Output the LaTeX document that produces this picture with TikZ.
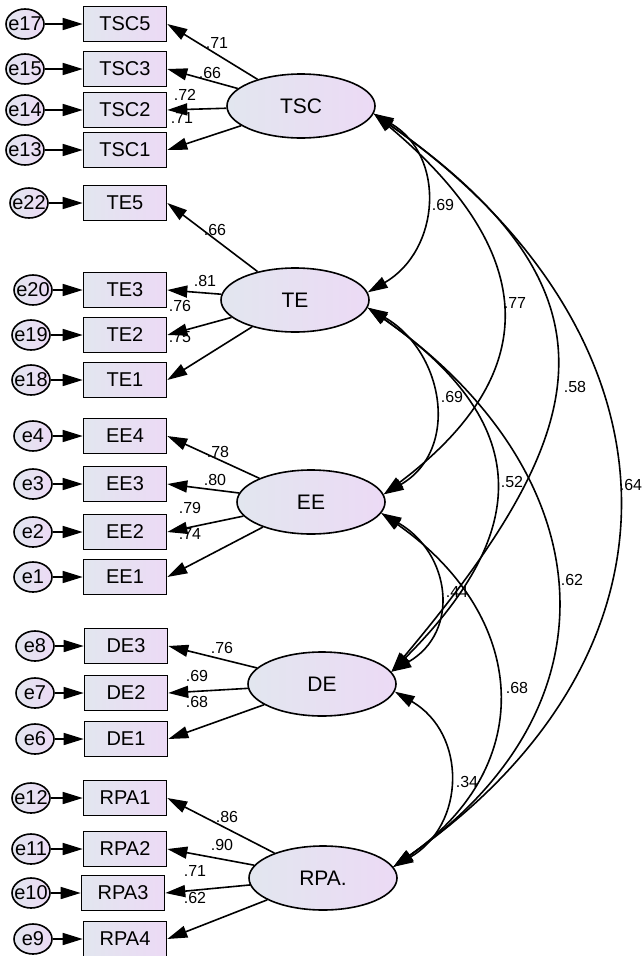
\documentclass[tikz,border=0pt]{standalone}
\usepackage{fontspec}
\setmainfont{Liberation Sans}
\usetikzlibrary{shapes.geometric,arrows.meta}

\definecolor{shadeL}{RGB}{226,230,239}
\definecolor{shadeR}{RGB}{236,218,245}
\newcommand{\ename}[1]{\makebox[0pt]{#1}}

\begin{document}
\begin{tikzpicture}[x=1pt,y=1pt,
    >={Triangle[length=20pt,width=12pt]},
    obs/.style={rectangle,draw,line width=1.6pt,minimum width=83pt,minimum height=35pt,
      inner sep=0pt,left color=shadeL,right color=shadeR,font=\fontsize{20}{24}\selectfont},
    lat/.style={ellipse,draw,line width=1.6pt,minimum width=148pt,minimum height=64pt,
      inner sep=0pt,left color=shadeL,right color=shadeR,font=\fontsize{21}{25}\selectfont},
    res/.style={ellipse,draw,line width=1.6pt,minimum width=38pt,minimum height=30pt,
      inner sep=0pt,left color=shadeL,right color=shadeR,font=\fontsize{20}{24}\selectfont},
    coef/.style={font=\fontsize{16}{19}\selectfont,inner sep=0pt},
    load/.style={->,line width=1.6pt},
    cov/.style={<->,line width=1.6pt}]

  \useasboundingbox (0,0) rectangle (644,-956);

  % latent factors
  \node[lat] (TSC) at (301,-106) {TSC};
  \node[lat] (TE)  at (295,-300) {TE};
  \node[lat] (EE)  at (311,-502) {EE};
  \node[lat] (DE)  at (322,-684) {DE};
  \node[lat] (RPA) at (323,-878) {RPA.};

  % indicators
  \begin{scope}[every node/.style={obs}]
    \node (TSC5) at (125,-24)  {TSC5};
    \node (TSC3) at (125,-69)  {TSC3};
    \node (TSC2) at (125,-110) {TSC2};
    \node (TSC1) at (125,-150) {TSC1};
    \node (TE5)  at (125,-203) {TE5};
    \node (TE3)  at (125,-290) {TE3};
    \node (TE2)  at (125,-335) {TE2};
    \node (TE1)  at (125,-380) {TE1};
    \node (EE4)  at (125,-436) {EE4};
    \node (EE3)  at (125,-484) {EE3};
    \node (EE2)  at (125,-532) {EE2};
    \node (EE1)  at (125,-577) {EE1};
    \node (DE3)  at (126,-646) {DE3};
    \node (DE2)  at (126,-693) {DE2};
    \node (DE1)  at (126,-739) {DE1};
    \node (RPA1) at (125,-798) {RPA1};
    \node (RPA2) at (125,-849) {RPA2};
    \node (RPA3) at (123,-893) {RPA3};
    \node (RPA4) at (125,-939) {RPA4};
  \end{scope}

  % error terms
  \begin{scope}[every node/.style={res}]
    \node (e17) at (25,-24)  {\ename{e17}};
    \node (e15) at (25,-69)  {\ename{e15}};
    \node (e14) at (25,-110) {\ename{e14}};
    \node (e13) at (25,-150) {\ename{e13}};
    \node (e22) at (29,-203) {\ename{e22}};
    \node (e20) at (33,-290) {\ename{e20}};
    \node (e19) at (31,-335) {\ename{e19}};
    \node (e18) at (31,-380) {\ename{e18}};
    \node (e4)  at (33,-436) {\ename{e4}};
    \node (e3)  at (33,-484) {\ename{e3}};
    \node (e2)  at (33,-532) {\ename{e2}};
    \node (e1)  at (33,-577) {\ename{e1}};
    \node (e8)  at (35,-646) {\ename{e8}};
    \node (e7)  at (35,-693) {\ename{e7}};
    \node (e6)  at (35,-739) {\ename{e6}};
    \node (e12) at (31,-798) {\ename{e12}};
    \node (e11) at (31,-849) {\ename{e11}};
    \node (e10) at (31,-893) {\ename{e10}};
    \node (e9)  at (33,-939) {\ename{e9}};
  \end{scope}

  % errors -> indicators
  \draw[load] (e17) -- (TSC5);
  \draw[load] (e15) -- (TSC3);
  \draw[load] (e14) -- (TSC2);
  \draw[load] (e13) -- (TSC1);
  \draw[load] (e22) -- (TE5);
  \draw[load] (e20) -- (TE3);
  \draw[load] (e19) -- (TE2);
  \draw[load] (e18) -- (TE1);
  \draw[load] (e4)  -- (EE4);
  \draw[load] (e3)  -- (EE3);
  \draw[load] (e2)  -- (EE2);
  \draw[load] (e1)  -- (EE1);
  \draw[load] (e8)  -- (DE3);
  \draw[load] (e7)  -- (DE2);
  \draw[load] (e6)  -- (DE1);
  \draw[load] (e12) -- (RPA1);
  \draw[load] (e11) -- (RPA2);
  \draw[load] (e10) -- (RPA3);
  \draw[load] (e9)  -- (RPA4);

  % loadings
  \draw[load] (TSC) -- (TSC5.east);
  \draw[load] (TSC) -- (TSC3.east);
  \draw[load] (TSC) -- (TSC2.east);
  \draw[load] (TSC) -- (TSC1.east);
  \draw[load] (TE)  -- (TE5.east);
  \draw[load] (TE)  -- (TE3.east);
  \draw[load] (TE)  -- (TE2.east);
  \draw[load] (TE)  -- (TE1.east);
  \draw[load] (EE)  -- (EE4.east);
  \draw[load] (EE)  -- (EE3.east);
  \draw[load] (EE)  -- (EE2.east);
  \draw[load] (EE)  -- (EE1.east);
  \draw[load] (DE)  -- (DE3.east);
  \draw[load] (DE)  -- (DE2.east);
  \draw[load] (DE)  -- (DE1.east);
  \draw[load] (RPA) -- (RPA1.east);
  \draw[load] (RPA) -- (RPA2.east);
  \draw[load] (RPA) -- (RPA3.east);
  \draw[load] (RPA) -- (RPA4.east);

  \node[coef] (lTSC5) at (217,-43)  {.71};
  \node[coef] (lTSC3) at (210,-73)  {.66};
  \node[coef] (lTSC2) at (185,-95)  {.72};
  \node[coef] (lTSC1) at (182,-118) {.71};
  \node[coef] (lTE5)  at (215,-230) {.66};
  \node[coef] (lTE3)  at (205,-281) {.81};
  \node[coef] (lTE2)  at (180,-306) {.76};
  \node[coef] (lTE1)  at (180,-337) {.75};
  \node[coef] (lEE4)  at (218,-452) {.78};
  \node[coef] (lEE3)  at (215,-480) {.80};
  \node[coef] (lEE2)  at (190,-508) {.79};
  \node[coef] (lEE1)  at (190,-534) {.74};
  \node[coef] (lDE3)  at (222,-648) {.76};
  \node[coef] (lDE2)  at (197,-676) {.69};
  \node[coef] (lDE1)  at (197,-702) {.68};
  \node[coef] (lRPA1) at (227,-817) {.86};
  \node[coef] (lRPA2) at (222,-845) {.90};
  \node[coef] (lRPA3) at (195,-871) {.71};
  \node[coef] (lRPA4) at (195,-898) {.62};

  % correlations
  \draw[cov] (TSC.-6) to[out=-30,in=30,looseness=1.2]  (TE.6);
  \draw[cov] (TSC.-6) to[out=-40,in=37,looseness=1.4]  (EE.6);
  \draw[cov] (TSC.-6) to[out=-35,in=50,looseness=1.44] (DE.10);
  \draw[cov] (TSC.-6) to[out=-35,in=35,looseness=1.29] (RPA.9);
  \draw[cov] (TE.-6)  to[out=-30,in=30,looseness=1.21] (EE.6);
  \draw[cov] (TE.-6)  to[out=-35,in=45,looseness=1.41] (DE.10);
  \draw[cov] (TE.-6)  to[out=-35,in=35,looseness=1.3]  (RPA.9);
  \draw[cov] (EE.-9)  to[out=-30,in=30,looseness=1.29] (DE.10);
  \draw[cov] (EE.-9)  to[out=-35,in=35,looseness=1.29] (RPA.9);
  \draw[cov] (DE.-6)  to[out=-30,in=30,looseness=1.22] (RPA.9);

  \node[coef] (rTSCTE)  at (443,-205) {.69};
  \node[coef] (rTSCEE)  at (515,-303) {.77};
  \node[coef] (rTSCDE)  at (575,-387) {.58};
  \node[coef] (rTSCRPA) at (631,-485) {.64};
  \node[coef] (rTEEE)   at (452,-397) {.69};
  \node[coef] (rTEDE)   at (512,-482) {.52};
  \node[coef] (rTERPA)  at (572,-580) {.62};
  \node[coef] (rEEDE)   at (457,-592) {.44};
  \node[coef] (rEERPA)  at (517,-688) {.68};
  \node[coef] (rDERPA)  at (467,-782) {.34};

\end{tikzpicture}
\end{document}
